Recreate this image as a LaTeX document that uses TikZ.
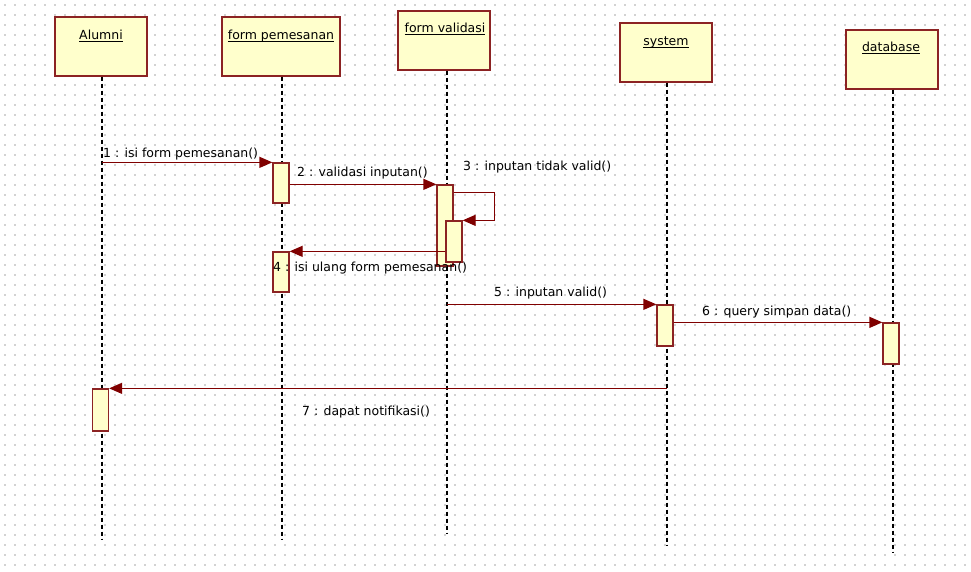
\documentclass[tikz,border=0pt]{standalone}
\usepackage{fontspec}
\setmainfont{DejaVu Sans}
\usetikzlibrary{arrows.meta,calc}
\definecolor{umlred}{RGB}{128,0,0}
\definecolor{umledge}{RGB}{140,35,35}
\definecolor{umlfill}{RGB}{255,255,204}
\definecolor{dotgray}{RGB}{210,210,210}
\newcommand{\objname}[1]{\underline{\smash{#1}}}
\tikzset{
  obj/.style={draw=umledge, fill=umlfill, line width=1.4pt, inner sep=0pt, minimum height=59pt},
  title/.style={inner sep=0pt, anchor=base, font=\fontsize{12.5}{15}\selectfont},
  lbl/.style={inner sep=0pt, anchor=west, font=\fontsize{12.5}{15}\selectfont},
  actbar/.style={draw=umledge, fill=umlfill, line width=1.3pt, inner sep=0pt, minimum width=16pt},
  life/.style={black, line width=1.3pt, dash pattern=on 4pt off 3pt},
  msg/.style={umlred, line width=1.3pt, -{Triangle[length=13pt,width=11pt]}},
  griddot/.style={dotgray, line width=1.3pt, dash pattern=on 1.5pt off 8.5pt}
}
\begin{document}
\begin{tikzpicture}[x=1pt,y=-1pt]
\useasboundingbox (0,0) rectangle (971,572);
\fill[white] (0,0) rectangle (971,572);
\foreach \yy in {5,15,...,565} \draw[griddot] (4,\yy) -- (971,\yy);

% objects
\node[obj, minimum width=92pt]  (alumni) at (101,46.5) {};
\node[obj, minimum width=118pt] (fpem)   at (281,46.5) {};
\node[obj, minimum width=92pt]  (fval)   at (444,40.5) {};
\node[obj, minimum width=92pt]  (sys)    at (666,52.5) {};
\node[obj, minimum width=92pt]  (db)     at (892,59.5) {};
\node[title] (alumniT) at (101,40) {\objname{Alumni}};
\node[title] (fpemT)   at (281,40) {\objname{form pemesanan}};
\node[title] (fvalT)   at (445,33) {\objname{form validasi}};
\node[title] (sysT)    at (666,46) {\objname{system}};
\node[title] (dbT)     at (891,52) {\objname{database}};

% lifeline ends
\coordinate (alumniE) at (102,540);
\coordinate (fpemE)   at (282,540);
\coordinate (fvalE)   at (447,533);
\coordinate (sysE)    at (667,545);
\coordinate (dbE)     at (893,552);
\draw[life] (alumni.south -| alumniE) -- (alumniE);
\draw[life] (fpem.south -| fpemE) -- (fpemE);
\draw[life] (fval.south -| fvalE) -- (fvalE);
\draw[life] (sys.south -| sysE) -- (sysE);
\draw[life] (db.south -| dbE) -- (dbE);

% activation bars
\node[actbar, minimum height=40pt] (b1)    at (281,183) {};
\node[actbar, minimum height=81pt] (fvbar) at (445,225.5) {};
\node[actbar, minimum height=41pt] (nest)  at (454,241.5) {};
\node[actbar, minimum height=40pt] (b2)    at (281,272) {};
\node[actbar, minimum height=41pt] (sysbar) at (665,325.5) {};
\node[actbar, minimum height=41pt] (dbbar) at (891,343.5) {};
\node[actbar, minimum height=42pt] (albar) at (100.5,410) {};

% messages
\draw[msg] (alumniE |- b1.north) -- (b1.north west);
\draw[msg] (b1.east |- fvbar.north) -- (fvbar.north west);
\draw[msg] ([yshift=-8pt]fvbar.north east) -- ++(41,0) |- (nest.north east);
\draw[msg] (nest.west |- b2.north) -- (b2.north east);
\draw[msg] (fvalE |- sysbar.north) -- (sysbar.north west);
\draw[msg] (sysbar.east |- dbbar.north) -- (dbbar.north west);
\draw[msg] (sysE |- albar.north) -- (albar.north east);

% labels
\node[lbl] (m1) at (103,154) {1 : isi form pemesanan()};
\node[lbl] (m2) at (297,173) {2 : validasi inputan()};
\node[lbl] (m3) at (463,167) {3 : inputan tidak valid()};
\node[lbl] (m4) at (273,268) {4 : isi ulang form pemesanan()};
\node[lbl] (m5) at (494,293) {5 : inputan valid()};
\node[lbl] (m6) at (702,312) {6 : query simpan data()};
\node[lbl] (m7) at (302,412) {7 : dapat notifikasi()};
\end{tikzpicture}
\end{document}
